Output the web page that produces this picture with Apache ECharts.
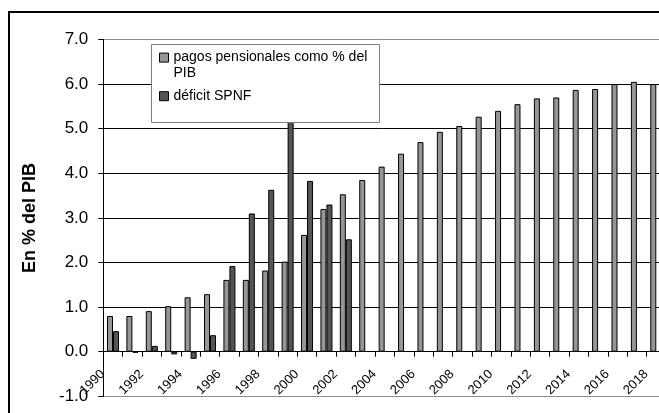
<!DOCTYPE html>
<html>
<head>
<meta charset="utf-8">
<script src="https://cdn.jsdelivr.net/npm/echarts@6/dist/echarts.min.js"></script>
<style>
  html, body { margin: 0; padding: 0; background: #fff; }
  #chart { width: 659px; height: 413px; }
</style>
</head>
<body>
<div id="chart"></div>
<script>
// Years on the category axis
const years = ['1990','1991','1992','1993','1994','1995','1996','1997','1998','1999',
  '2000','2001','2002','2003','2004','2005','2006','2007','2008','2009',
  '2010','2011','2012','2013','2014','2015','2016','2017','2018'];

// Pension payments, % of GDP
const pensionPayments = [0.80, 0.80, 0.91, 1.02, 1.22, 1.29, 1.61, 1.61, 1.82, 2.02,
  2.62, 3.20, 3.53, 3.85, 4.15, 4.44, 4.70, 4.93, 5.06, 5.27,
  5.40, 5.55, 5.68, 5.70, 5.87, 5.89, 6.00, 6.05, 6.00];

// Non-financial public sector deficit, % of GDP (series ends in 2002)
const spnfDeficit = [0.46, -0.02, 0.13, -0.06, -0.16, 0.37, 1.92, 3.10, 3.63, 5.50,
  3.83, 3.30, 2.52];

// Value axis ticks
const yTicks = [-1, 0, 1, 2, 3, 4, 5, 6, 7];

const seriesNames = ['pagos pensionales como % del PIB', 'déficit SPNF'];

const FONT = '"Liberation Sans", Arial, sans-serif';

const chart = echarts.init(document.getElementById('chart'), null, { renderer: 'canvas' });

const gridLineColors = yTicks.map((v, i) =>
  (i === 0 || i === yTicks.length - 1) ? '#8c8c8c' : '#000000');

const legendText = { fontSize: 14, lineHeight: 16, color: '#000', fontFamily: FONT };

chart.setOption({
  animation: false,
  backgroundColor: '#ffffff',
  textStyle: { fontFamily: FONT },
  grid: { left: 103.3, top: 39.5, right: -7, bottom: 16.7, containLabel: false, outerBoundsMode: 'none' },
  graphic: [
    // outer chart frame
    { type: 'rect', z: 0, silent: true,
      shape: { x: 9, y: 12, width: 720, height: 460 },
      style: { fill: 'none', stroke: '#000', lineWidth: 2 } },
    // legend frame
    { type: 'rect', z: 10, silent: true,
      shape: { x: 151.5, y: 44.5, width: 228, height: 78 },
      style: { fill: '#fff', stroke: '#808080', lineWidth: 1 } }
  ],
  legend: [
    {
      z: 20, left: 159, top: 33.6, padding: 0, orient: 'vertical',
      data: [seriesNames[0]],
      icon: 'rect', itemWidth: 9, itemHeight: 9,
      itemStyle: { borderColor: '#000', borderWidth: 1 },
      formatter: () => '\npagos pensionales como % del\nPIB',
      textStyle: legendText,
      selectedMode: false
    },
    {
      z: 20, left: 159, top: 88.2, padding: 0, orient: 'vertical',
      data: [seriesNames[1]],
      icon: 'rect', itemWidth: 9, itemHeight: 9,
      itemStyle: { borderColor: '#000', borderWidth: 1 },
      textStyle: legendText,
      selectedMode: false
    }
  ],
  xAxis: {
    type: 'category',
    data: years,
    boundaryGap: true,
    axisLine: { onZero: true, lineStyle: { color: '#000', width: 1 } },
    axisTick: { show: true, interval: 0, length: 5, lineStyle: { color: '#000' } },
    axisLabel: {
      interval: 1, rotate: 45, fontSize: 13, color: '#000', fontFamily: FONT,
      // labels are laid out from the plot's lower edge; pull them up under the zero line
      margin: -34.5,
      // trailing spaces push the rotated year back from its tick
      formatter: v => v + '    '
    },
    splitLine: { show: false }
  },
  yAxis: {
    type: 'value',
    min: -1, max: 7, interval: 1,
    name: 'En % del PIB',
    nameLocation: 'middle',
    nameRotate: 90,
    nameGap: 64,
    nameTextStyle: { fontSize: 18, fontWeight: 'bold', color: '#000', fontFamily: FONT },
    axisLine: { show: true, lineStyle: { color: '#000', width: 1 } },
    axisTick: { show: true, length: 5, lineStyle: { color: '#000' } },
    axisLabel: {
      fontSize: 17, color: '#000', margin: 15, fontFamily: FONT,
      formatter: v => v.toFixed(1)
    },
    splitLine: { show: true, lineStyle: { color: gridLineColors, width: 1 } }
  },
  series: [
    {
      name: seriesNames[0], type: 'bar', data: pensionPayments,
      barWidth: 6, barGap: '0%',
      itemStyle: { color: '#969696', borderColor: '#000', borderWidth: 1 }
    },
    {
      name: seriesNames[1], type: 'bar', data: spnfDeficit,
      barWidth: 6, barGap: '0%',
      itemStyle: { color: '#555555', borderColor: '#000', borderWidth: 1 }
    }
  ]
});
</script>
</body>
</html>
